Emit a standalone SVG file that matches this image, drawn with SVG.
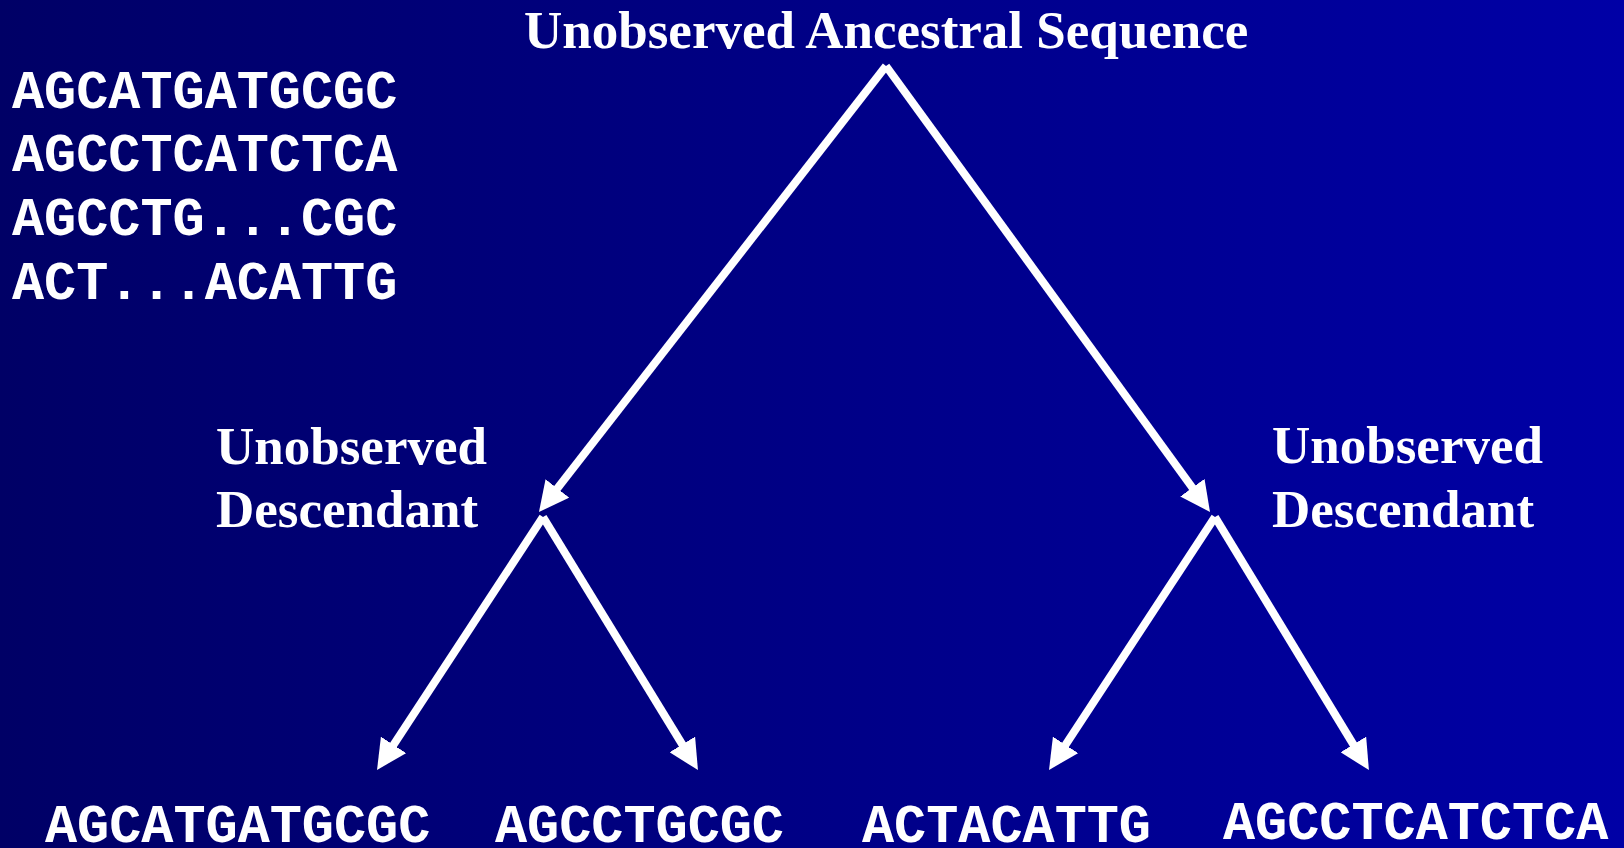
<svg xmlns="http://www.w3.org/2000/svg" width="1624" height="848" viewBox="0 0 1624 848">
  <defs>
    <linearGradient id="bg" x1="0" y1="0" x2="1" y2="0">
      <stop offset="0" stop-color="#000066"/>
      <stop offset="1" stop-color="#0000A6"/>
    </linearGradient>
    <marker id="ah" markerUnits="userSpaceOnUse" viewBox="0 0 30 30" markerWidth="30" markerHeight="30" refX="14" refY="15" orient="auto">
      <path d="M0,0 L30,15 L0,30 z" fill="#ffffff"/>
    </marker>
    <style>
      .seq { font-family: "Liberation Mono", "Courier New", monospace; font-weight: bold; font-size: 53.5px; fill: #ffffff; }
      .lbl { font-family: "Liberation Serif", "Times New Roman", serif; font-weight: bold; font-size: 53px; fill: #ffffff; }
      .edge { stroke: #ffffff; stroke-width: 8; fill: none; marker-end: url(#ah); }
    </style>
  </defs>
  <rect x="0" y="0" width="1624" height="848" fill="url(#bg)"/>

  <g id="sequence-list">
    <text class="seq" x="12" y="108">AGCATGATGCGC</text>
    <text class="seq" x="12" y="171">AGCCTCATCTCA</text>
    <text class="seq" x="12" y="235">AGCCTG...CGC</text>
    <text class="seq" x="12" y="299">ACT...ACATTG</text>
  </g>

  <g id="ancestor">
    <text class="lbl" x="524" y="48" font-size="53.6">Unobserved Ancestral Sequence</text>
  </g>

  <g id="descendant-left">
    <text class="lbl" x="216" y="464">Unobserved</text>
    <text class="lbl" x="216" y="527">Descendant</text>
  </g>

  <g id="descendant-right">
    <text class="lbl" x="1272" y="463">Unobserved</text>
    <text class="lbl" x="1272" y="527">Descendant</text>
  </g>

  <g id="leaf-1"><text class="seq" x="45" y="842">AGCATGATGCGC</text></g>
  <g id="leaf-2"><text class="seq" x="495" y="842">AGCCTGCGC</text></g>
  <g id="leaf-3"><text class="seq" x="862" y="842">ACTACATTG</text></g>
  <g id="leaf-4"><text class="seq" x="1223" y="839">AGCCTCATCTCA</text></g>

  <g id="connectors">
    <line class="edge" x1="886" y1="66" x2="548.8" y2="499.4"/>
    <line class="edge" x1="886" y1="66" x2="1200.6" y2="499"/>
    <line class="edge" x1="543" y1="517" x2="385.8" y2="756.6"/>
    <line class="edge" x1="543" y1="517" x2="689.6" y2="756.4"/>
    <line class="edge" x1="1215" y1="517" x2="1057.8" y2="756.6"/>
    <line class="edge" x1="1215" y1="517" x2="1360.6" y2="756.4"/>
  </g>
</svg>
